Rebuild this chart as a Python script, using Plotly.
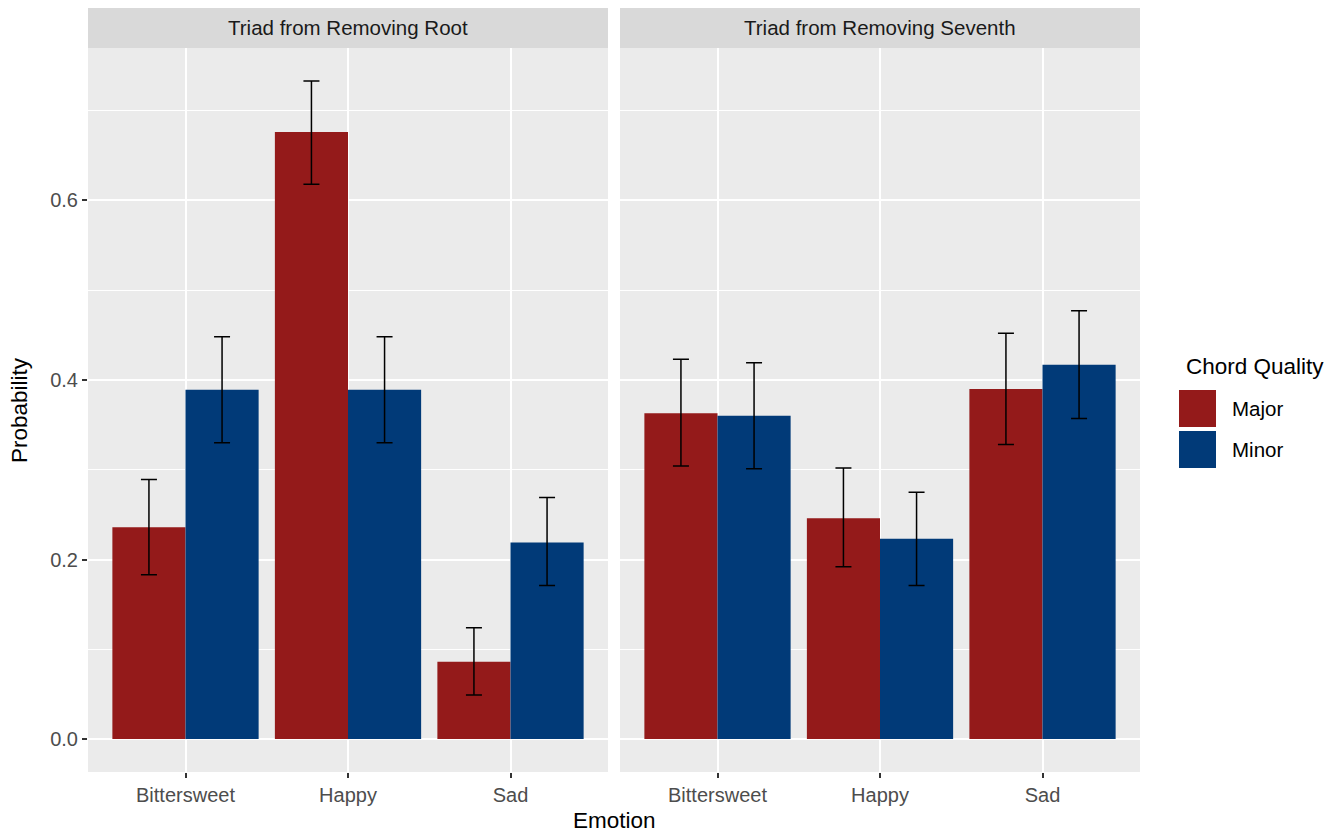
import plotly.graph_objects as go

# Data: probability of each emotion by chord quality, per triad condition
emotions = ["Bittersweet", "Happy", "Sad"]
qualities = ["Major", "Minor"]
panels = ["Triad from Removing Root", "Triad from Removing Seventh"]

root_major = [0.236, 0.676, 0.086]
root_major_lo = [0.183, 0.618, 0.049]
root_major_hi = [0.289, 0.733, 0.124]
root_minor = [0.389, 0.389, 0.219]
root_minor_lo = [0.330, 0.330, 0.171]
root_minor_hi = [0.448, 0.448, 0.269]

seventh_major = [0.363, 0.246, 0.390]
seventh_major_lo = [0.304, 0.192, 0.328]
seventh_major_hi = [0.423, 0.302, 0.452]
seventh_minor = [0.360, 0.223, 0.417]
seventh_minor_lo = [0.301, 0.171, 0.357]
seventh_minor_hi = [0.419, 0.275, 0.477]

colors = {"Major": "#941A1A", "Minor": "#013A78"}

W, H = 1342, 836
FONT = "Liberation Sans, Arial, sans-serif"


def px_x(p):
    return p / W


def px_y(p):
    return 1 - p / H


panel_x = [(88, 608), (620, 1140)]
panel_top, panel_bottom = 48, 772
strip_top = 8

fig = go.Figure()

series = [
    ("x", "y", "Major", root_major, root_major_lo, root_major_hi),
    ("x", "y", "Minor", root_minor, root_minor_lo, root_minor_hi),
    ("x2", "y2", "Major", seventh_major, seventh_major_lo, seventh_major_hi),
    ("x2", "y2", "Minor", seventh_minor, seventh_minor_lo, seventh_minor_hi),
]
for xa, ya, q, vals, lo, hi in series:
    fig.add_trace(go.Bar(
        x=list(range(len(emotions))), y=vals, name=q,
        xaxis=xa, yaxis=ya,
        marker=dict(color=colors[q], line=dict(width=0)),
        offsetgroup=q,
        error_y=dict(
            type="data", symmetric=False,
            array=[h - v for h, v in zip(hi, vals)],
            arrayminus=[v - l for v, l in zip(vals, lo)],
            color="black", thickness=1.5, width=8,
        ),
        showlegend=False,
    ))

y_top = max(max(root_major_hi), max(root_minor_hi), max(seventh_major_hi), max(seventh_minor_hi))
y_range = [-0.05 * y_top, 1.05 * y_top]

xaxis_common = dict(
    range=[-0.6, 2.6], tickmode="array", tickvals=list(range(len(emotions))),
    ticktext=emotions, showgrid=True, gridcolor="white", gridwidth=2,
    zeroline=False, ticks="outside", ticklen=5, tickwidth=2, tickcolor="#333333",
    tickfont=dict(family=FONT, size=20, color="#4D4D4D"), showline=False,
)
yaxis_common = dict(
    range=y_range, tickmode="array", tickvals=[0, 0.2, 0.4, 0.6],
    ticktext=["0.0", "0.2", "0.4", "0.6"],
    showgrid=True, gridcolor="white", gridwidth=2, zeroline=False,
    minor=dict(tickmode="array", tickvals=[0.1, 0.3, 0.5, 0.7], showgrid=True,
               gridcolor="white", gridwidth=1, ticks=""),
    domain=[px_y(panel_bottom), px_y(panel_top)],
    showline=False,
)

fig.update_layout(
    width=W, height=H,
    margin=dict(l=0, r=0, t=0, b=0),
    paper_bgcolor="white", plot_bgcolor="#EBEBEB",
    barmode="group", bargap=0.1, bargroupgap=0,
    font=dict(family=FONT, color="#1A1A1A"),
    xaxis=dict(xaxis_common, domain=[px_x(panel_x[0][0]), px_x(panel_x[0][1])], anchor="y"),
    xaxis2=dict(xaxis_common, domain=[px_x(panel_x[1][0]), px_x(panel_x[1][1])], anchor="y2"),
    yaxis=dict(yaxis_common, anchor="x", ticks="outside", ticklen=5, tickwidth=2,
               tickcolor="#333333", tickfont=dict(family=FONT, size=20, color="#4D4D4D")),
    yaxis2=dict(yaxis_common, anchor="x2", showticklabels=False, ticks=""),
)

shapes = []
annotations = []
# Facet strips
for (x0, x1), title in zip(panel_x, panels):
    shapes.append(dict(type="rect", xref="paper", yref="paper",
                       x0=px_x(x0), x1=px_x(x1), y0=px_y(panel_top), y1=px_y(strip_top),
                       fillcolor="#D9D9D9", line=dict(width=0), layer="below"))
    annotations.append(dict(text=title, xref="paper", yref="paper",
                            x=px_x((x0 + x1) / 2), y=px_y((strip_top + panel_top) / 2),
                            xanchor="center", yanchor="middle", showarrow=False,
                            font=dict(family=FONT, size=20.5, color="#1A1A1A")))

# Axis titles
annotations.append(dict(text="Emotion", xref="paper", yref="paper",
                        x=px_x((panel_x[0][0] + panel_x[1][1]) / 2), y=px_y(820),
                        xanchor="center", yanchor="middle", showarrow=False,
                        font=dict(family=FONT, size=22.5, color="black")))
annotations.append(dict(text="Probability", xref="paper", yref="paper",
                        x=px_x(20), y=px_y((panel_top + panel_bottom) / 2),
                        xanchor="center", yanchor="middle", textangle=-90, showarrow=False,
                        font=dict(family=FONT, size=22.5, color="black")))

# Legend
annotations.append(dict(text="Chord Quality", xref="paper", yref="paper",
                        x=px_x(1184), y=px_y(366), xanchor="left", yanchor="middle",
                        showarrow=False, font=dict(family=FONT, size=22.5, color="black")))
key_tops = [390, 431]
for q, top in zip(qualities, key_tops):
    shapes.append(dict(type="rect", xref="paper", yref="paper",
                       x0=px_x(1179), x1=px_x(1216), y0=px_y(top + 37), y1=px_y(top),
                       fillcolor=colors[q], line=dict(width=0)))
    annotations.append(dict(text=q, xref="paper", yref="paper",
                            x=px_x(1230), y=px_y(top + 18.5), xanchor="left", yanchor="middle",
                            showarrow=False, font=dict(family=FONT, size=20.5, color="black")))

fig.update_layout(shapes=shapes, annotations=annotations)

fig.write_html("out.html")
